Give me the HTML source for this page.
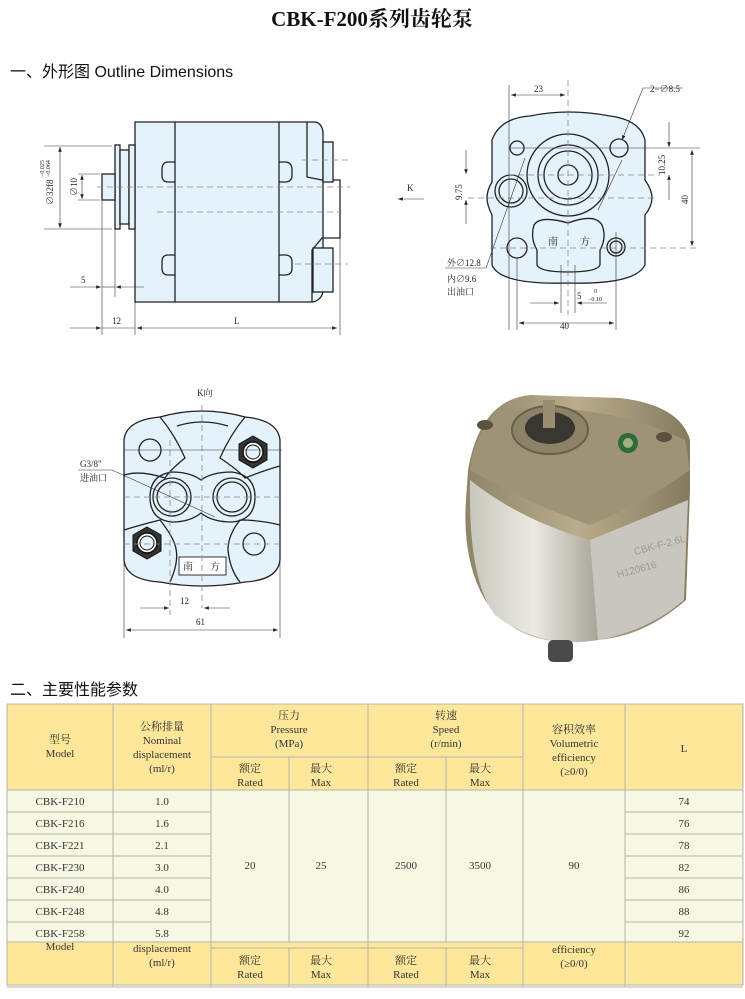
<!DOCTYPE html>
<html><head><meta charset="utf-8"><style>
html,body{margin:0;padding:0;background:#fff}
svg{display:block}
.t{font-family:"Liberation Serif","Noto Serif CJK SC",serif;font-size:11px;fill:#333;text-anchor:middle}
.d{font-family:"Liberation Serif","Noto Serif CJK SC",serif;font-size:9px;fill:#222}
.ln{stroke:#222;stroke-width:1.3;fill:none}
.lf{stroke:#222;stroke-width:1.3;fill:#e4f2fb}
.th{stroke:#333;stroke-width:0.6;fill:none}
.ds{stroke:#888;stroke-width:0.8;stroke-dasharray:6 4;fill:none}
</style></head><body>
<svg width="745" height="999" viewBox="0 0 745 999" xmlns="http://www.w3.org/2000/svg">
<defs>
<marker id="a" markerWidth="8" markerHeight="6" refX="8" refY="3" orient="auto-start-reverse"><path d="M0,0 L8,3 L0,6z" fill="#222"/></marker>
<linearGradient id="g1" x1="0" x2="1"><stop offset="0" stop-color="#c9c6bd"/><stop offset="0.5" stop-color="#ebe9e2"/><stop offset="1" stop-color="#a8a598"/></linearGradient>
<linearGradient id="g2" x1="0" x2="1"><stop offset="0" stop-color="#8e8468"/><stop offset="0.5" stop-color="#b9ad8c"/><stop offset="1" stop-color="#857a5e"/></linearGradient>
</defs>
<text x="372" y="26" style="font-family:'Liberation Serif','Noto Serif CJK SC',serif;font-size:21px;font-weight:bold;fill:#111" text-anchor="middle">CBK-F200系列齿轮泵</text>
<text x="10" y="77" style="font-family:'Liberation Sans','Noto Sans CJK SC',sans-serif;font-size:16px;fill:#111">一、外形图 Outline Dimensions</text>
<text x="10" y="695" style="font-family:'Liberation Sans','Noto Sans CJK SC',sans-serif;font-size:16px;fill:#111">二、主要性能参数</text>

<!-- side view -->
<g>
<path d="M135,122 H316 Q322,124 323,132 V292 Q321,300 313,302 H135 Z" class="lf"/>
<line x1="175" y1="122" x2="175" y2="302" class="ln"/>
<line x1="279" y1="122" x2="279" y2="302" class="ln"/>
<path d="M307,122 V177 L322,180 H340 V238 H322 L312,250 V302" class="ln"/>
<rect x="323" y="142" width="10" height="40" class="lf"/>
<rect x="313" y="248" width="20" height="44" class="lf"/>
<rect x="115" y="145" width="5" height="84" class="lf"/>
<rect x="120" y="150" width="9" height="74" class="lf"/>
<rect x="129" y="145" width="6" height="84" class="lf"/>
<rect x="102" y="174" width="13" height="26" class="lf"/>
<path d="M175,162 H168 Q162,162 162,170 V175 Q162,182 168,182 H175" class="ln"/>
<path d="M175,255 H168 Q162,255 162,262 V268 Q162,275 168,275 H175" class="ln"/>
<path d="M279,162 H285 Q292,162 292,170 V175 Q292,182 285,182 H279" class="ln"/>
<path d="M279,255 H285 Q292,255 292,262 V268 Q292,275 285,275 H279" class="ln"/>
<line x1="97" y1="187" x2="350" y2="187" class="ds"/>
<line x1="157" y1="212" x2="340" y2="212" class="ds"/>
<line x1="302" y1="160" x2="348" y2="160" class="ds"/>
<line x1="295" y1="264" x2="348" y2="264" class="ds"/>
<line x1="44" y1="146" x2="112" y2="146" class="th"/>
<line x1="44" y1="229" x2="112" y2="229" class="th"/>
<line x1="60" y1="147" x2="60" y2="228" class="th" marker-start="url(#a)" marker-end="url(#a)"/>
<line x1="78" y1="174" x2="100" y2="174" class="th"/>
<line x1="78" y1="200" x2="100" y2="200" class="th"/>
<line x1="82" y1="175" x2="82" y2="199" class="th" marker-start="url(#a)" marker-end="url(#a)"/>
<text class="d" transform="translate(53,205) rotate(-90)">∅32f8</text>
<text class="d" style="font-size:6px" transform="translate(44,177) rotate(-90)">−0.025</text>
<text class="d" style="font-size:6px" transform="translate(50,177) rotate(-90)">−0.064</text>
<text class="d" transform="translate(77,196) rotate(-90)">∅10</text>
<line x1="102" y1="200" x2="102" y2="335" class="th"/>
<line x1="115" y1="229" x2="115" y2="297" class="th"/>
<line x1="135" y1="302" x2="135" y2="335" class="th"/>
<line x1="340" y1="238" x2="340" y2="335" class="th"/>
<line x1="70" y1="287" x2="101" y2="287" class="th" marker-end="url(#a)"/>
<line x1="144" y1="287" x2="116" y2="287" class="th" marker-end="url(#a)"/>
<line x1="102" y1="287" x2="115" y2="287" class="th"/>
<text class="d" x="81" y="283">5</text>
<line x1="70" y1="328" x2="101" y2="328" class="th" marker-end="url(#a)"/>
<line x1="102" y1="328" x2="135" y2="328" class="th"/>
<line x1="137" y1="328" x2="337" y2="328" class="th" marker-start="url(#a)" marker-end="url(#a)"/>
<text class="d" x="112" y="324">12</text>
<text class="d" x="234" y="324">L</text>
</g>

<!-- end view -->
<g>
<path d="M492,140 Q500,118 530,116 Q568,108 610,116 Q640,120 645,140 V180 Q652,190 652,198 Q652,206 645,215 V265 Q635,285 568,283 Q500,285 492,265 V215 Q487,205 487,198 Q487,190 492,182 Z" class="lf"/>
<circle cx="568" cy="175" r="41" class="ln"/>
<circle cx="568" cy="175" r="30" class="ln"/>
<circle cx="568" cy="175" r="24" class="ln"/>
<circle cx="568" cy="175" r="10" class="ln"/>
<circle cx="517" cy="148" r="7" class="ln"/>
<circle cx="619" cy="148" r="9" class="ln"/>
<circle cx="511" cy="191" r="16" class="ln"/>
<circle cx="511" cy="191" r="12" class="ln"/>
<circle cx="517" cy="248" r="10" class="ln"/>
<circle cx="616" cy="247" r="9" class="ln"/>
<circle cx="616" cy="247" r="6" class="ln"/>
<path d="M534,225 Q540,215 568,223 Q595,213 602,225 Q607,238 600,250 V265 Q597,272 568,272 Q540,272 537,265 V250 Q530,238 534,225 Z" class="ln"/>
<text class="d" x="548" y="245" style="font-size:10px">南</text>
<text class="d" x="580" y="245" style="font-size:10px">方</text>
<line x1="568" y1="80" x2="568" y2="315" class="ds"/>
<line x1="508" y1="175" x2="660" y2="175" class="ds"/>
<line x1="468" y1="198" x2="655" y2="198" class="ds"/>
<line x1="490" y1="248" x2="696" y2="248" class="ds"/>
<line x1="510" y1="148" x2="700" y2="148" class="th"/>
<line x1="509" y1="85" x2="509" y2="330" class="th"/>
<line x1="517" y1="258" x2="517" y2="330" class="th"/>
<line x1="616" y1="232" x2="616" y2="330" class="th"/>
<line x1="561" y1="265" x2="561" y2="313" class="th"/>
<line x1="575" y1="265" x2="575" y2="313" class="th"/>
<line x1="511" y1="95" x2="565" y2="95" class="th" marker-start="url(#a)" marker-end="url(#a)"/>
<text class="d" x="534" y="92">23</text>
<line x1="466" y1="150" x2="466" y2="174" class="th" marker-end="url(#a)"/>
<line x1="466" y1="224" x2="466" y2="200" class="th" marker-end="url(#a)"/>
<text class="d" transform="translate(462,200) rotate(-90)">9.75</text>
<line x1="669" y1="122" x2="669" y2="147" class="th" marker-end="url(#a)"/>
<line x1="669" y1="200" x2="669" y2="175" class="th" marker-end="url(#a)"/>
<text class="d" transform="translate(665,175) rotate(-90)">10.25</text>
<line x1="692" y1="150" x2="692" y2="246" class="th" marker-start="url(#a)" marker-end="url(#a)"/>
<text class="d" transform="translate(688,204) rotate(-90)">40</text>
<line x1="530" y1="303" x2="559" y2="303" class="th" marker-end="url(#a)"/>
<line x1="607" y1="303" x2="577" y2="303" class="th" marker-end="url(#a)"/>
<text class="d" x="577" y="299">5</text>
<text class="d" style="font-size:6px" x="594" y="293">0</text>
<text class="d" style="font-size:6px" x="588" y="301">−0.10</text>
<line x1="519" y1="323" x2="614" y2="323" class="th" marker-start="url(#a)" marker-end="url(#a)"/>
<text class="d" x="560" y="329">40</text>
<path d="M683,88 H643 L622,140" class="th" marker-end="url(#a)"/>
<line x1="622" y1="160" x2="598" y2="210" class="th"/>
<text class="d" x="650" y="92">2−∅8.5</text>
<path d="M445,268 H486 L525,158" class="th"/>
<text class="d" x="447" y="266">外∅12.8</text>
<text class="d" x="447" y="282">内∅9.6</text>
<text class="d" x="447" y="295">出油口</text>
<line x1="424" y1="199" x2="398" y2="199" class="th" marker-end="url(#a)"/>
<text class="d" x="407" y="191">K</text>
</g>

<!-- K view -->
<g>
<path d="M124,440 Q126,420 160,417 Q202,405 245,417 Q278,420 280,440 V560 Q278,580 245,582 Q202,590 160,582 Q126,580 124,560 Z" class="lf"/>
<path d="M160,417 Q175,435 185,458 Q170,470 165,478 Q140,470 124,475" class="ln"/>
<path d="M245,417 Q230,435 220,458 Q238,470 245,478 Q265,470 280,466" class="ln"/>
<path d="M124,530 Q140,525 160,520 Q172,535 175,545 Q180,560 170,582" class="ln"/>
<path d="M280,525 Q260,520 240,520 Q228,535 228,550 Q230,570 240,582" class="ln"/>
<path d="M150,497 Q150,475 172,472 Q190,472 201,480 Q212,472 232,472 Q255,475 255,497 Q255,520 232,522 Q212,522 201,513 Q190,522 172,522 Q150,520 150,497 Z" class="ln"/>
<circle cx="172" cy="497" r="19" class="ln"/><circle cx="172" cy="497" r="15" class="ln"/>
<circle cx="232" cy="497" r="19" class="ln"/><circle cx="232" cy="497" r="15" class="ln"/>
<circle cx="150" cy="450" r="11" class="ln"/>
<circle cx="254" cy="544" r="11" class="ln"/>
<path d="M177,426 Q202,418 228,426" class="ln"/>
<polygon points="253,436 267,444 267,460 253,468 239,460 239,444" fill="#333" stroke="#111"/>
<circle cx="253" cy="452" r="10" fill="#fff" stroke="#111" stroke-width="1.5"/><circle cx="253" cy="452" r="7" fill="#e4f2fb" stroke="#111"/>
<polygon points="147,527 161,535 161,551 147,559 133,551 133,535" fill="#333" stroke="#111"/>
<circle cx="147" cy="543" r="10" fill="#fff" stroke="#111" stroke-width="1.5"/><circle cx="147" cy="543" r="7" fill="#e4f2fb" stroke="#111"/>
<rect x="179" y="557" width="47" height="18" fill="#fff" stroke="#333"/>
<text class="d" x="183" y="570" style="font-size:10px">南</text>
<text class="d" x="210" y="570" style="font-size:10px">方</text>
<line x1="202" y1="405" x2="202" y2="608" class="ds"/>
<line x1="170" y1="440" x2="170" y2="615" class="ds"/>
<line x1="124" y1="450" x2="282" y2="450" class="th" stroke="#aaa"/>
<line x1="124" y1="497" x2="282" y2="497" class="ds"/>
<line x1="124" y1="544" x2="282" y2="544" class="ds"/>
<text class="d" x="197" y="396">K向</text>
<path d="M78,470 H112 L215,517" class="th"/>
<text class="d" x="80" y="467">G3/8"</text>
<text class="d" x="80" y="481">进油口</text>
<line x1="140" y1="608" x2="169" y2="608" class="th" marker-end="url(#a)"/>
<line x1="230" y1="608" x2="204" y2="608" class="th" marker-end="url(#a)"/>
<text class="d" x="180" y="604">12</text>
<line x1="124" y1="560" x2="124" y2="638" class="th"/>
<line x1="280" y1="560" x2="280" y2="638" class="th"/>
<line x1="126" y1="630" x2="278" y2="630" class="th" marker-start="url(#a)" marker-end="url(#a)"/>
<text class="d" x="196" y="625">61</text>
</g>

<!-- photo -->
<g>
<path d="M468,470 Q480,400 530,395 L620,398 Q680,405 690,440 V490 L686,600 Q640,640 590,640 Q520,650 485,600 Q462,560 466,500 Z" fill="url(#g2)"/>
<path d="M470,480 Q520,520 590,540 L598,640 Q540,650 495,615 Q468,580 470,480 Z" fill="url(#g1)"/>
<path d="M590,540 L688,500 L684,600 Q650,630 598,640 Z" fill="#c8c6be"/>
<path d="M500,410 Q600,400 685,440 L690,470 Q640,505 590,525 Q520,500 470,470 Q475,430 500,410 Z" fill="#9e9277"/>
<ellipse cx="550" cy="430" rx="38" ry="24" fill="#8c8268" stroke="#6a6048" stroke-width="2"/>
<ellipse cx="550" cy="428" rx="25" ry="16" fill="#3a3630"/>
<rect x="543" y="400" width="12" height="28" fill="#9a8e72"/>
<circle cx="628" cy="443" r="10" fill="#2f6b3a"/><circle cx="628" cy="443" r="5" fill="#a0b080"/>
<ellipse cx="664" cy="437" rx="8" ry="5" fill="#5a5240"/>
<ellipse cx="485" cy="425" rx="8" ry="5" fill="#5a5240"/>
<rect x="548" y="640" width="25" height="22" rx="5" fill="#4a4a48"/>
<text x="635" y="555" style="font-family:'Liberation Sans',sans-serif;font-size:10px;fill:#9c9a92" transform="rotate(-15 635 555)">CBK-F-2.6L</text>
<text x="618" y="578" style="font-family:'Liberation Sans',sans-serif;font-size:10px;fill:#9c9a92" transform="rotate(-15 618 578)">H120616</text>
</g>

<!-- table -->
<g stroke="#b4b4a8" stroke-width="1">
<rect x="7" y="704" width="736" height="86" fill="#fee79a"/>
<rect x="7" y="790" width="736" height="152" fill="#f6f8e4"/>
<rect x="7" y="942" width="736" height="43" fill="#fee79a"/>
<line x1="7" y1="812" x2="211" y2="812"/><line x1="7" y1="834" x2="211" y2="834"/><line x1="7" y1="856" x2="211" y2="856"/><line x1="7" y1="878" x2="211" y2="878"/><line x1="7" y1="900" x2="211" y2="900"/><line x1="7" y1="922" x2="211" y2="922"/>
<line x1="625" y1="812" x2="743" y2="812"/><line x1="625" y1="834" x2="743" y2="834"/><line x1="625" y1="856" x2="743" y2="856"/><line x1="625" y1="878" x2="743" y2="878"/><line x1="625" y1="900" x2="743" y2="900"/><line x1="625" y1="922" x2="743" y2="922"/>
<line x1="211" y1="757" x2="523" y2="757"/><line x1="211" y1="948" x2="523" y2="948"/>
<line x1="113" y1="704" x2="113" y2="987"/><line x1="211" y1="704" x2="211" y2="987"/><line x1="368" y1="704" x2="368" y2="987"/><line x1="523" y1="704" x2="523" y2="987"/><line x1="625" y1="704" x2="625" y2="987"/>
<line x1="289" y1="757" x2="289" y2="942"/><line x1="446" y1="757" x2="446" y2="942"/>
<line x1="289" y1="948" x2="289" y2="987"/><line x1="446" y1="948" x2="446" y2="987"/>
<line x1="7" y1="987" x2="743" y2="987"/>
</g>
<g class="t">
<text class="t" x="60" y="743">型号</text><text class="t" x="60" y="757">Model</text>
<text class="t" x="162" y="730">公称排量</text><text class="t" x="162" y="744">Nominal</text><text class="t" x="162" y="758">displacement</text><text class="t" x="162" y="772">(ml/r)</text>
<text class="t" x="289" y="719">压力</text><text class="t" x="289" y="733">Pressure</text><text class="t" x="289" y="747">(MPa)</text>
<text class="t" x="446" y="719">转速</text><text class="t" x="446" y="733">Speed</text><text class="t" x="446" y="747">(r/min)</text>
<text class="t" x="574" y="733">容积效率</text><text class="t" x="574" y="747">Volumetric</text><text class="t" x="574" y="761">efficiency</text><text class="t" x="574" y="775">(≥0/0)</text>
<text class="t" x="684" y="752">L</text>
<text class="t" x="250" y="772">额定</text><text class="t" x="250" y="786">Rated</text>
<text class="t" x="321" y="772">最大</text><text class="t" x="321" y="786">Max</text>
<text class="t" x="406" y="772">额定</text><text class="t" x="406" y="786">Rated</text>
<text class="t" x="480" y="772">最大</text><text class="t" x="480" y="786">Max</text>
<text class="t" x="60" y="805">CBK-F210</text><text class="t" x="162" y="805">1.0</text><text class="t" x="684" y="805">74</text>
<text class="t" x="60" y="827">CBK-F216</text><text class="t" x="162" y="827">1.6</text><text class="t" x="684" y="827">76</text>
<text class="t" x="60" y="849">CBK-F221</text><text class="t" x="162" y="849">2.1</text><text class="t" x="684" y="849">78</text>
<text class="t" x="60" y="871">CBK-F230</text><text class="t" x="162" y="871">3.0</text><text class="t" x="684" y="871">82</text>
<text class="t" x="60" y="893">CBK-F240</text><text class="t" x="162" y="893">4.0</text><text class="t" x="684" y="893">86</text>
<text class="t" x="60" y="915">CBK-F248</text><text class="t" x="162" y="915">4.8</text><text class="t" x="684" y="915">88</text>
<text class="t" x="60" y="937">CBK-F258</text><text class="t" x="162" y="937">5.8</text><text class="t" x="684" y="937">92</text>
<text class="t" x="250" y="869">20</text><text class="t" x="321" y="869">25</text><text class="t" x="406" y="869">2500</text><text class="t" x="480" y="869">3500</text><text class="t" x="574" y="869">90</text>
<text class="t" x="60" y="950">Model</text>
<text class="t" x="162" y="952">displacement</text><text class="t" x="162" y="966">(ml/r)</text>
<text class="t" x="574" y="953">efficiency</text><text class="t" x="574" y="967">(≥0/0)</text>
<text class="t" x="250" y="964">额定</text><text class="t" x="250" y="978">Rated</text>
<text class="t" x="321" y="964">最大</text><text class="t" x="321" y="978">Max</text>
<text class="t" x="406" y="964">额定</text><text class="t" x="406" y="978">Rated</text>
<text class="t" x="480" y="964">最大</text><text class="t" x="480" y="978">Max</text>
</g>
</svg>
</body></html>
